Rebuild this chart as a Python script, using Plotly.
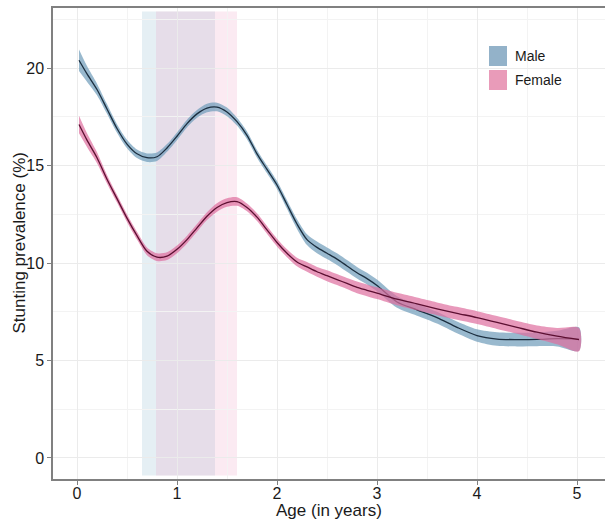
import plotly.graph_objects as go

# ---- data ----
ages = [0.02, 0.1, 0.2, 0.3, 0.4, 0.5, 0.6, 0.7, 0.8, 0.9,
        1.0, 1.1, 1.2, 1.3, 1.4, 1.5, 1.6, 1.7, 1.8, 1.9,
        2.0, 2.1, 2.2, 2.3, 2.4, 2.5, 2.6, 2.7, 2.8, 2.9,
        3.0, 3.2, 3.4, 3.6, 3.8, 4.0, 4.2, 4.4, 4.6, 4.8, 5.02]

male = [20.4, 19.7, 18.9, 17.9, 16.9, 16.1, 15.6, 15.4, 15.45, 15.9,
        16.5, 17.15, 17.65, 17.95, 18.0, 17.75, 17.25, 16.55, 15.6, 14.8,
        14.0, 13.0, 12.0, 11.2, 10.8, 10.5, 10.2, 9.85, 9.5, 9.2,
        8.85, 8.0, 7.6, 7.2, 6.7, 6.28, 6.1, 6.07, 6.08, 6.12, 6.1]
male_se = [0.55, 0.4, 0.3, 0.25, 0.22, 0.22, 0.22, 0.22, 0.22, 0.2,
           0.2, 0.2, 0.2, 0.22, 0.22, 0.22, 0.2, 0.2, 0.2, 0.2,
           0.2, 0.22, 0.25, 0.28, 0.3, 0.3, 0.3, 0.3, 0.3, 0.3,
           0.3, 0.3, 0.3, 0.3, 0.3, 0.32, 0.35, 0.35, 0.35, 0.4, 0.6]

female = [17.1, 16.3, 15.4, 14.3, 13.3, 12.3, 11.4, 10.6, 10.3, 10.35,
          10.7, 11.2, 11.8, 12.4, 12.85, 13.1, 13.15, 12.85, 12.35, 11.7,
          11.05, 10.5, 10.05, 9.8, 9.55, 9.35, 9.15, 8.95, 8.75, 8.6,
          8.45, 8.15, 7.9, 7.65, 7.42, 7.2, 6.95, 6.7, 6.45, 6.25, 6.07]
female_se = [0.45, 0.35, 0.28, 0.22, 0.2, 0.2, 0.2, 0.2, 0.2, 0.2,
             0.2, 0.2, 0.2, 0.2, 0.22, 0.22, 0.22, 0.2, 0.2, 0.2,
             0.2, 0.2, 0.22, 0.25, 0.25, 0.28, 0.28, 0.28, 0.3, 0.3,
             0.3, 0.32, 0.33, 0.33, 0.33, 0.33, 0.33, 0.33, 0.35, 0.42, 0.6]

# growth-faltering windows (age in years)
male_window = [0.65, 1.38]
female_window = [0.79, 1.60]

x_ticks = [0, 1, 2, 3, 4, 5]
y_ticks = [0, 5, 10, 15, 20]
series_names = ["Male", "Female"]

# ---- styles ----
MALE_FILL = "rgba(110,155,185,0.70)"
MALE_LINE = "#1b2e3f"
FEMALE_FILL = "rgba(222,110,158,0.70)"
FEMALE_LINE = "#5c0f31"
MALE_KEY = "#93b2c9"
FEMALE_KEY = "#e99bb9"
FONT = "Liberation Sans, Arial, sans-serif"

fig = go.Figure()


def add_series(x, y, se, fill, line, name):
    upper = [a + b for a, b in zip(y, se)]
    lower = [a - b for a, b in zip(y, se)]
    fig.add_trace(go.Scatter(
        x=list(x) + list(x)[::-1], y=upper + lower[::-1],
        fill="toself", fillcolor=fill, line=dict(width=0, shape="spline", smoothing=0.8),
        mode="lines", hoverinfo="skip", showlegend=False, name=name + " CI"))
    fig.add_trace(go.Scatter(
        x=x, y=y, mode="lines", name=name,
        line=dict(color=line, width=1.3, shape="spline", smoothing=0.8),
        showlegend=False))


add_series(ages, male, male_se, MALE_FILL, MALE_LINE, series_names[0])
add_series(ages, female, female_se, FEMALE_FILL, FEMALE_LINE, series_names[1])

# shaded windows
fig.add_shape(type="rect", xref="x", yref="y", x0=male_window[0], x1=male_window[1],
              y0=-0.9, y1=22.9, fillcolor="rgba(150,190,210,0.25)", line_width=0, layer="below")
fig.add_shape(type="rect", xref="x", yref="y", x0=female_window[0], x1=female_window[1],
              y0=-0.9, y1=22.9, fillcolor="rgba(235,160,195,0.22)", line_width=0, layer="below")

# legend (drawn manually to match key size)
for i, (nm, col) in enumerate(zip(series_names, [MALE_KEY, FEMALE_KEY])):
    y_top = 46 + i * 24
    fig.add_shape(type="rect", xref="paper", yref="paper",
                  x0=(489 - 53) / 552, x1=(507 - 53) / 552,
                  y0=(479 - (y_top + 20)) / 471, y1=(479 - y_top) / 471,
                  fillcolor=col, line_width=0, layer="above")
    fig.add_annotation(x=(513 - 53) / 552, y=(479 - (y_top + 10)) / 471,
                       xref="paper", yref="paper", text=nm, showarrow=False,
                       xanchor="left", yanchor="middle",
                       font=dict(size=14, color="#1a1a1a", family=FONT))

# axis titles
fig.add_annotation(x=0.5, y=(479 - 510) / 471, xref="paper", yref="paper",
                   text="Age (in years)", showarrow=False, xanchor="center", yanchor="middle",
                   font=dict(size=17, color="#1a1a1a", family=FONT))
fig.add_annotation(x=(19 - 53) / 552, y=0.5, xref="paper", yref="paper",
                   text="Stunting prevalence (%)", showarrow=False, textangle=-90,
                   xanchor="center", yanchor="middle",
                   font=dict(size=17, color="#1a1a1a", family=FONT))

axis_common = dict(
    showgrid=True, gridcolor="#ebebeb", gridwidth=1,
    minor=dict(showgrid=True, gridcolor="#f3f3f3", gridwidth=1),
    zeroline=False, showline=True, linecolor="#808080", linewidth=1.5,
    ticks="outside", ticklen=4, tickcolor="#808080", tickwidth=1.2,
    tickfont=dict(size=16, color="#1a1a1a", family=FONT),
)

fig.update_xaxes(range=[-0.24, 5.28], tickvals=x_ticks, ticktext=[str(v) for v in x_ticks],
                 mirror=True, minor_dtick=0.5, minor_tick0=0, ticklabelstandoff=-5,
                 **axis_common)
fig.update_yaxes(range=[-1.08, 23.08], tickvals=y_ticks, ticktext=[str(v) for v in y_ticks],
                 mirror=False, minor_dtick=2.5, minor_tick0=0, **axis_common)
fig.update_xaxes(minor_ticks="")
fig.update_yaxes(minor_ticks="")

fig.update_layout(
    width=605, height=529,
    margin=dict(l=53, r=0, t=8, b=50),
    plot_bgcolor="white", paper_bgcolor="white",
    showlegend=False,
    font=dict(family=FONT),
)

fig.write_html("out.html", config={"displayModeBar": False},
               post_script="document.body.style.margin='0';")
